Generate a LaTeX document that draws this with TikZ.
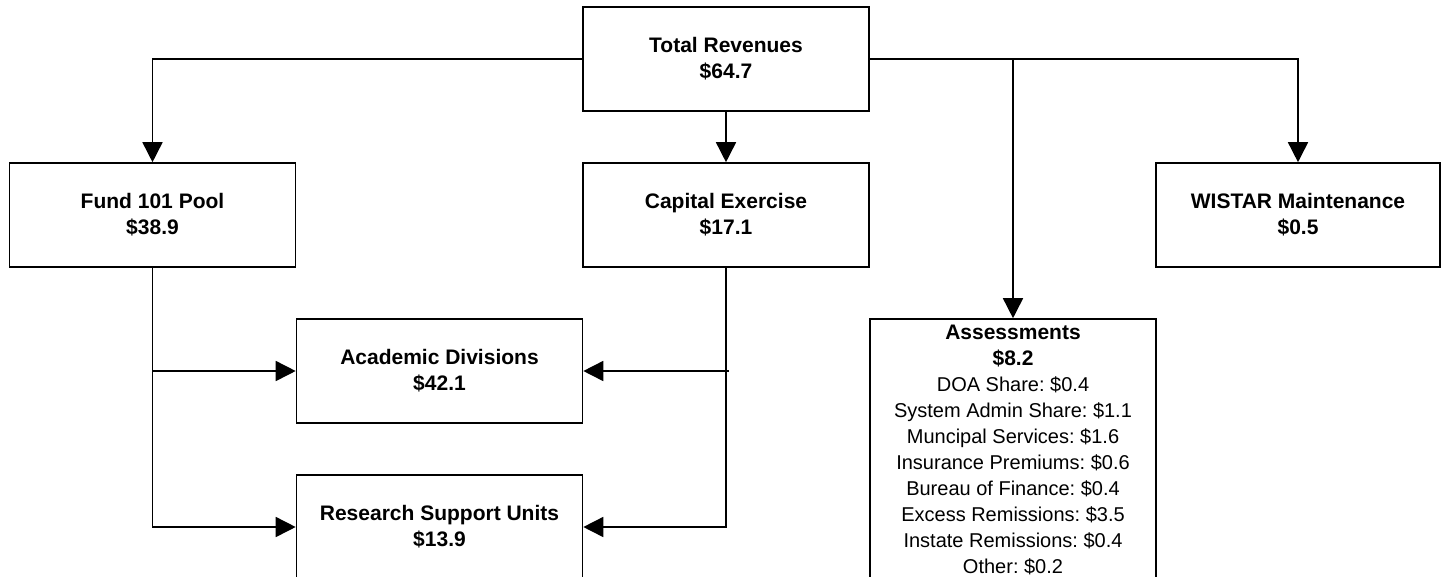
\documentclass[tikz,border=0pt]{standalone}
\usepackage{fontspec}
\setmainfont{Liberation Sans}
\usepackage{tikz}
\usetikzlibrary{arrows.meta, calc}
\frenchspacing

\begin{document}
\begin{tikzpicture}[
  x=1pt, y=-1pt,
  fundbox/.style={draw, rectangle, line width=1.6pt, minimum width=286pt, minimum height=104pt,
    font=\fontsize{21}{26}\selectfont\bfseries, align=center},
  listbox/.style={draw, rectangle, line width=1.6pt, minimum width=286pt, minimum height=262pt,
    font=\fontsize{20}{26}\selectfont, align=center},
  flow/.style={draw, line width=1.6pt, -{Triangle[length=20pt,width=20pt]}},
  link/.style={draw, line width=1.6pt}
]
\useasboundingbox (0,0) rectangle (1442,576);

% top level
\node[fundbox] (total) at (726,59) {Total Revenues\\\$64.7};

% second level
\node[fundbox] (fund) at (152.5,215) {Fund 101 Pool\\\$38.9};
\node[fundbox] (capital) at (726,215) {Capital Exercise\\\$17.1};
\node[fundbox, minimum width=284pt] (wistar) at (1298,215) {WISTAR Maintenance\\\$0.5};

% receivers
\node[fundbox] (academic) at (439.5,371) {Academic Divisions\\\$42.1};
\node[fundbox] (research) at (439.5,527) {Research Support Units\\\$13.9};
\node[listbox] (assess) at (1013,450) {{\fontsize{21}{26}\selectfont\bfseries Assessments}\\
  {\fontsize{21}{26}\selectfont\bfseries \$8.2}\\
  DOA Share: \$0.4\\System Admin Share: \$1.1\\Muncipal Services: \$1.6\\
  Insurance Premiums: \$0.6\\Bureau of Finance: \$0.4\\Excess Remissions: \$3.5\\
  Instate Remissions: \$0.4\\Other: \$0.2};

% revenue split
\draw[flow] (total.west) -| (fund.north);
\draw[flow] (total.east) -| (wistar.north);
\draw[flow] (total.south) -- (capital.north);
\draw[flow] (assess.north |- total.east) -- (assess.north);

% distribution
\draw[flow] (fund.south) |- (research.west);
\draw[flow] (fund.south |- academic.west) -- (academic.west);
\draw[flow] (capital.south) |- (research.east);
\draw[flow] ($(capital.south |- academic.east)+(3,0)$) -- (academic.east);
\end{tikzpicture}
\end{document}
